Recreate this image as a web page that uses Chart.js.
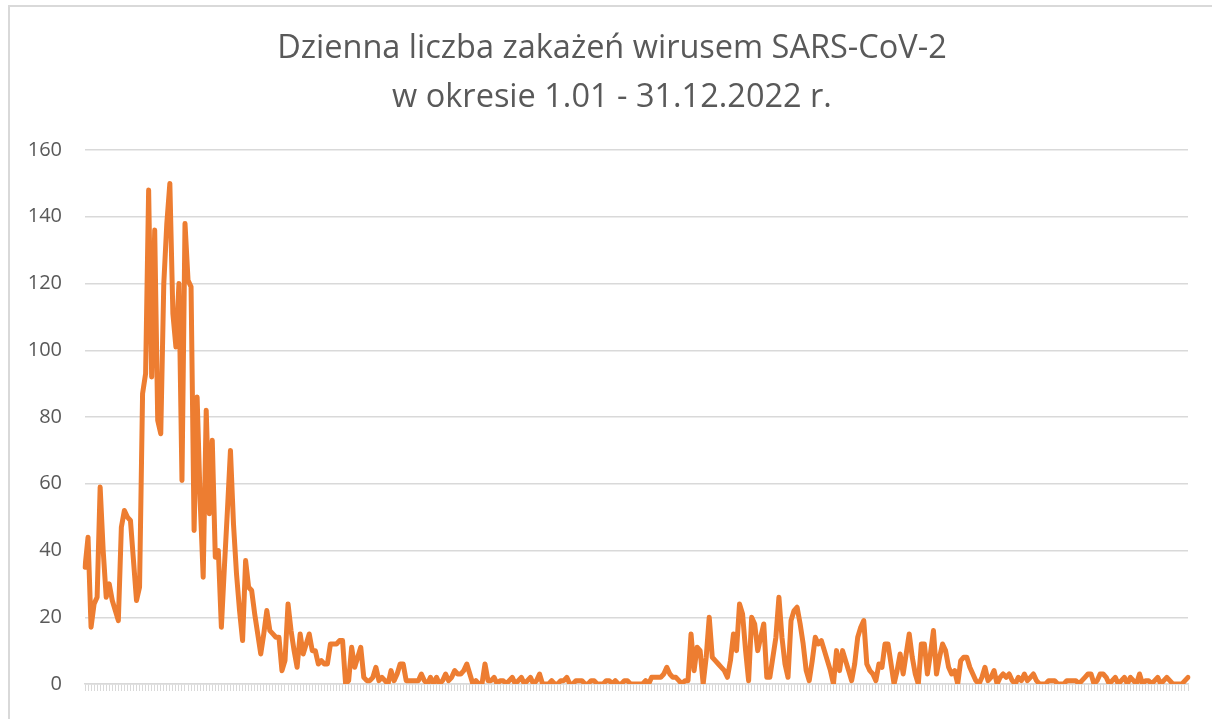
<!DOCTYPE html>
<html lang="pl">
<head>
<meta charset="utf-8">
<title>Dzienna liczba zakażeń</title>
<script src="https://cdn.jsdelivr.net/npm/chart.js@4.4.1/dist/chart.umd.min.js"></script>
<style>
  html, body { margin: 0; padding: 0; background: #fff; }
  #wrap { position: relative; width: 1212px; height: 719px; overflow: hidden; }
  #frame { position: absolute; left: 8px; top: 5px; width: 1300px; height: 800px;
           border-left: 2px solid #d9d9d9; border-top: 2px solid #d9d9d9; }
  #chart { position: absolute; left: 0; top: 0; }
</style>
</head>
<body>
<div id="wrap">
  <div id="frame"></div>
  <canvas id="chart" width="1212" height="719"></canvas>
</div>
<script>
// daily cases 2022
const jan = [35, 44, 17, 24, 26, 59, 40, 26, 30, 25, 22, 19, 47, 52, 50, 49, 37, 25, 29, 87, 93, 148, 92, 136, 79, 75, 120, 138, 150, 111, 101];
const feb = [120, 61, 138, 121, 119, 46, 86, 55, 32, 82, 51, 73, 38, 40, 17, 35, 52, 70, 48, 33, 22, 13, 37, 29, 28, 21, 15, 9];
const mar = [15, 22, 16, 15, 14, 14, 4, 7, 24, 16, 10, 5, 15, 9, 12, 15, 10, 10, 6, 7, 6, 6, 12, 12, 12, 13, 13, 0, 1, 11, 5];
const apr = [8, 11, 2, 1, 1, 2, 5, 1, 2, 1, 0, 4, 1, 3, 6, 6, 1, 1, 1, 1, 1, 3, 1, 0, 2, 0, 2, 0, 1, 3];
const may = [1, 2, 4, 3, 3, 4, 6, 3, 0, 1, 0, 0, 6, 1, 1, 2, 0, 1, 1, 0, 1, 2, 0, 1, 2, 0, 1, 2, 0, 1, 3];
const jun = [0, 0, 0, 1, 0, 0, 1, 1, 2, 0, 0, 1, 1, 1, 0, 0, 1, 1, 0, 0, 0, 1, 1, 0, 1, 0, 0, 1, 1, 0];
const jul = [0, 0, 0, 0, 1, 0, 2, 2, 2, 2, 3, 5, 3, 2, 2, 1, 0, 1, 1, 15, 4, 11, 10, 0, 8, 20, 8, 7, 6, 5, 4];
const aug = [2, 7, 15, 10, 24, 21, 10, 1, 20, 18, 10, 14, 18, 2, 2, 8, 14, 26, 14, 6, 2, 19, 22, 23, 18, 12, 4, 1, 7, 14, 12];
const sep = [13, 10, 7, 4, 0, 10, 4, 10, 7, 4, 1, 6, 14, 17, 19, 6, 4, 3, 1, 6, 5, 12, 12, 6, 0, 4, 9, 3, 9, 15];
const oct = [8, 3, 0, 12, 12, 3, 9, 16, 3, 8, 12, 10, 5, 3, 4, 0, 7, 8, 8, 5, 3, 1, 0, 2, 5, 1, 2, 4, 0, 2, 3];
const nov = [2, 3, 1, 0, 2, 1, 3, 1, 2, 3, 1, 0, 0, 0, 1, 1, 1, 0, 0, 0, 1, 1, 1, 1, 0, 1, 2, 3, 3, 0];
const dec = [1, 3, 3, 2, 0, 1, 2, 0, 1, 2, 0, 2, 1, 0, 3, 0, 1, 1, 0, 1, 2, 0, 1, 2, 1, 0, 0, 0, 0, 1, 2];

const months = ['01', '02', '03', '04', '05', '06', '07', '08', '09', '10', '11', '12'];
const yTicks = [0, 20, 40, 60, 80, 100, 120, 140, 160];
const titleLines = ['Dzienna liczba zakażeń wirusem SARS-CoV-2', 'w okresie 1.01 - 31.12.2022 r.'];

const byMonth = [jan, feb, mar, apr, may, jun, jul, aug, sep, oct, nov, dec];
const values = [];
const labels = [];
byMonth.forEach((arr, m) => {
  arr.forEach((v, d) => {
    values.push(v);
    labels.push((d + 1) + '.' + months[m]);
  });
});

const grey = '#595959';
const lineGrey = '#d9d9d9';

new Chart(document.getElementById('chart'), {
  type: 'line',
  data: {
    labels: labels,
    datasets: [{
      label: 'Liczba zakażeń',
      data: values,
      borderColor: '#ED7D31',
      borderWidth: 5,
      pointRadius: 0,
      tension: 0,
      borderJoinStyle: 'round',
      borderCapStyle: 'round'
    }]
  },
  options: {
    responsive: false,
    animation: false,
    layout: { padding: { left: 24, right: 12, top: 0, bottom: 0 } },
    plugins: {
      legend: { display: false },
      tooltip: { enabled: false },
      title: {
        display: true,
        text: titleLines,
        color: grey,
        font: { family: 'Open Sans', size: 32.5, weight: 'normal', lineHeight: 1.508 },
        padding: { top: 24, bottom: 28 }
      }
    },
    scales: {
      x: {
        type: 'category',
        offset: false,
        ticks: { display: false },
        grid: { drawOnChartArea: false, drawTicks: true, tickLength: 7, color: lineGrey, lineWidth: 1 },
        border: { color: lineGrey, width: 1.5 },
        afterFit: s => { s.height = 29; }
      },
      y: {
        min: 0,
        max: 160,
        afterBuildTicks: s => { s.ticks = yTicks.map(v => ({ value: v })); },
        ticks: { color: grey, padding: 23, font: { family: 'Open Sans', size: 20 } },
        grid: { color: lineGrey, lineWidth: 1.5, drawTicks: false },
        border: { display: false },
        afterFit: s => { s.width = 61; }
      },
      // empty spacer on the right so the title sits where it does in the picture
      spacer: {
        type: 'linear',
        position: 'right',
        display: true,
        ticks: { display: false },
        grid: { display: false },
        border: { display: false },
        afterFit: s => { s.width = 12; }
      }
    }
  }
});
</script>
</body>
</html>
